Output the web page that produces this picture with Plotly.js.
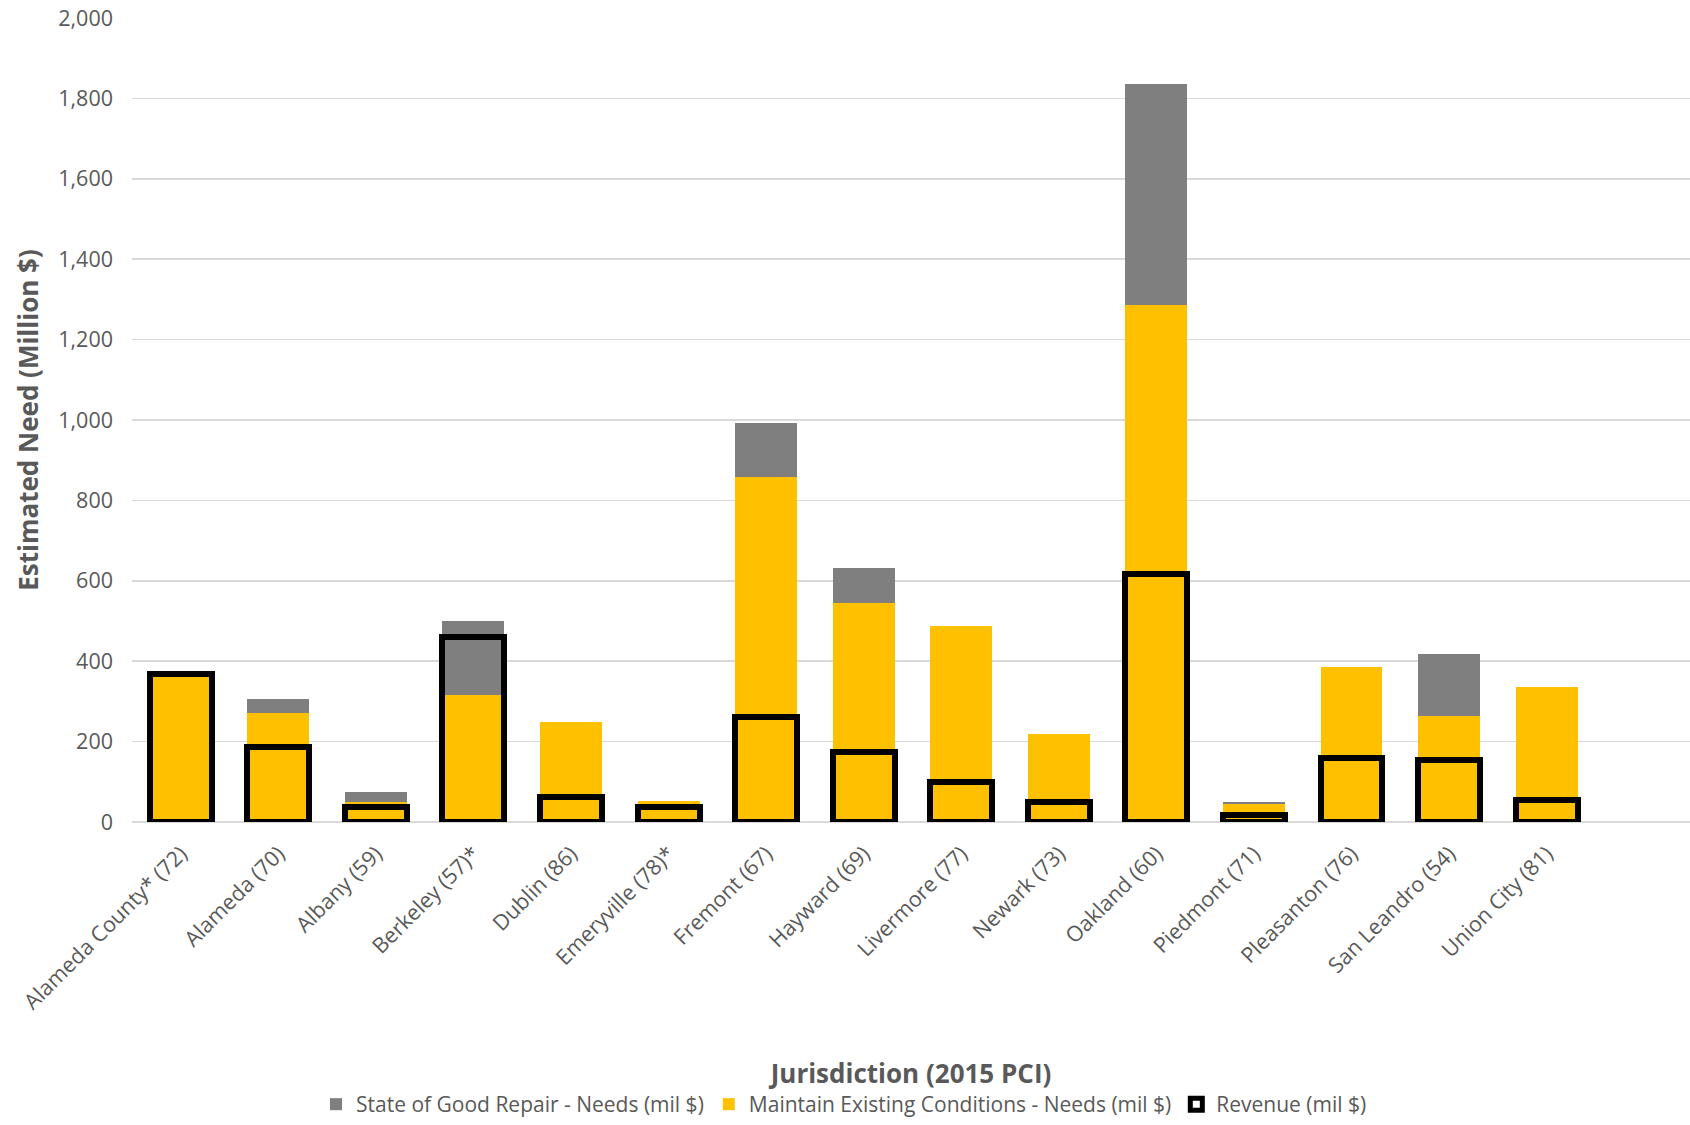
<!DOCTYPE html>
<html>
<head>
<meta charset="utf-8">
<script src="https://cdn.plot.ly/plotly-3.0.1.min.js"></script>
<style>html,body{margin:0;padding:0;background:#fff;}#chart{width:1690px;height:1125px;}</style>
</head>
<body>
<div id="chart"></div>
<script>
var jurisdictions = ["Alameda County* (72)", "Alameda (70)", "Albany (59)", "Berkeley (57)*", "Dublin (86)", "Emeryville (78)*", "Fremont (67)", "Hayward (69)", "Livermore (77)", "Newark (73)", "Oakland (60)", "Piedmont (71)", "Pleasanton (76)", "San Leandro (54)", "Union City (81)"];
var maintainNeeds = [366, 272, 49, 316, 250, 53, 857, 546, 487, 218, 1285, 45, 386, 264, 337];
var goodRepairNeeds = [0, 33, 25, 184, 0, 0, 136, 87, 0, 0, 552, 4, 0, 155, 0];
var revenue = [367, 186, 37, 459, 62, 38, 260, 173, 99, 50, 618, 18, 160, 153, 55];
var yTicks = [0, 200, 400, 600, 800, 1000, 1200, 1400, 1600, 1800, 2000];

var fontFam = '"Open Sans", "DejaVu Sans", sans-serif';
var txt = '#595959';

var traces = [
  {type: 'bar', name: 'Maintain Existing Conditions - Needs (mil $)', x: jurisdictions, y: maintainNeeds,
   marker: {color: '#FFC000', line: {width: 0}}, legendrank: 2, hoverinfo: 'y+name'},
  {type: 'bar', name: 'State of Good Repair - Needs (mil $)', x: jurisdictions, y: goodRepairNeeds,
   marker: {color: '#7F7F7F', line: {width: 0}}, legendrank: 1, hoverinfo: 'y+name'},
  {type: 'bar', name: 'Revenue (mil $)', x: jurisdictions, y: revenue, yaxis: 'y2',
   marker: {color: 'rgba(0,0,0,0)', line: {color: '#000000', width: 6}}, legendrank: 3, hoverinfo: 'y+name'}
];

var layout = {
  width: 1690, height: 1125,
  paper_bgcolor: '#ffffff', plot_bgcolor: '#ffffff',
  margin: {l: 132, r: 0, t: 18, b: 298},
  barmode: 'stack',
  bargap: 0.365,
  font: {family: fontFam, color: txt},
  showlegend: true,
  legend: {orientation: 'h', x: 0.457, xanchor: 'center', y: -0.352, yanchor: 'middle',
           font: {size: 21, color: txt, family: fontFam}, traceorder: 'normal', itemwidth: 30},
  xaxis: {
    range: [-0.5, 15.47], type: 'category',
    tickangle: -45, tickfont: {size: 21.5, color: txt, family: fontFam},
    showgrid: false, showline: false, zeroline: false, ticks: '',
    ticklabelstandoff: 14,
    title: {text: 'Jurisdiction (2015 PCI)', font: {size: 26, color: txt, family: fontFam, weight: 'bold'}, standoff: 50}
  },
  yaxis: {
    range: [0, 2000], tickvals: yTicks, ticktext: yTicks.map(function(v){return v.toLocaleString('en-US');}),
    tickfont: {size: 21.5, color: txt, family: fontFam},
    gridcolor: '#D9D9D9', gridwidth: 1.5, zeroline: true, zerolinecolor: '#D9D9D9', zerolinewidth: 1.5,
    showline: false, ticks: '', ticklabelstandoff: 18,
    title: {text: 'Estimated Need (Million $)', font: {size: 26, color: txt, family: fontFam, weight: 'bold'}, standoff: 12}
  },
  yaxis2: {
    range: [0, 2000], overlaying: 'y', side: 'left', showgrid: false, zeroline: false,
    showticklabels: false, ticks: '', showline: false
  }
};

Plotly.newPlot('chart', traces, layout, {displayModeBar: false, staticPlot: true});
</script>
</body>
</html>
